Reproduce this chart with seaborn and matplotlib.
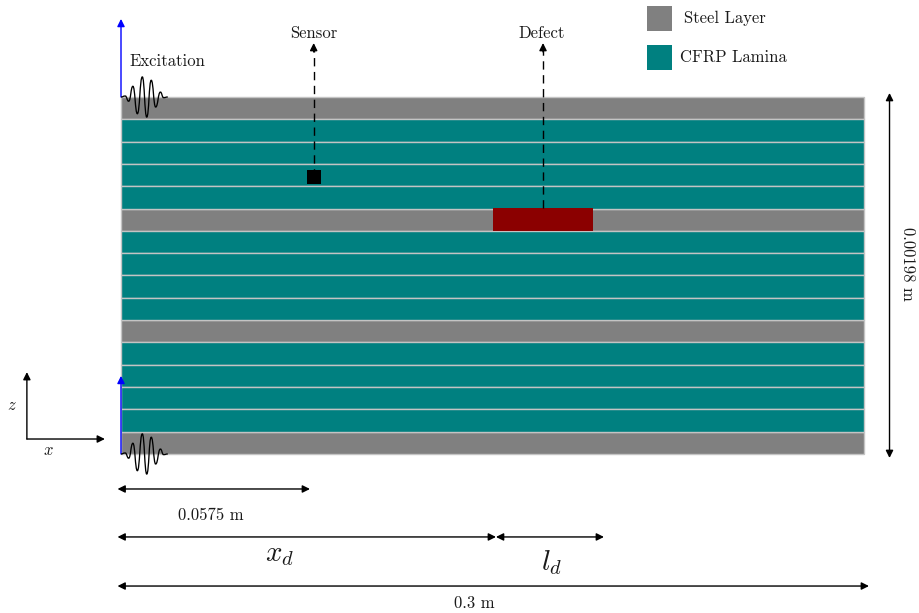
import matplotlib
matplotlib.use("Agg")
import matplotlib.pyplot as plt
from matplotlib.path import Path
from matplotlib.patches import PathPatch
import numpy as np
import pandas as pd
import seaborn as sns

# layup, top to bottom
layer_material = ["Steel Layer"] + ["CFRP Lamina"] * 4 + ["Steel Layer"] + ["CFRP Lamina"] * 4 \
    + ["Steel Layer"] + ["CFRP Lamina"] * 4 + ["Steel Layer"]
layer_index = list(range(16))
plate_length = [0.3] * 16

# x in metres, z in layer rows (row 0 on top)
defect_x = 0.1502
defect_len = 0.0404
defect_row = 5
sensor_x = 0.0778
sensor_z = 3.09
label_z = -2.92
top_surface = -0.5
bottom_surface = 15.5

# excitation burst (extrema only)
burst_x = [0, .0017, .0031, .0048, .0066, .0086, .0104, .0122, .0140, .0159, .0172, .0189]
burst_z = [0, -.045, .19, -.48, .75, -.90, .90, -.75, .45, -.22, .03, 0]

colors = {"Steel Layer": "#808080", "CFRP Lamina": "#008080"}
edge_color = "#c4c4c4"
text_color = "#1a1a1a"

sns.set_theme(style="white")
plt.rcParams["font.family"] = ["cmr10", "DejaVu Serif"]
plt.rcParams["mathtext.fontset"] = "cm"
plt.rcParams["axes.unicode_minus"] = False

fig = plt.figure(figsize=(9.19, 6.13), dpi=100)
ax = fig.add_axes([0, 0, 1, 1])

df = pd.DataFrame({"row": layer_index, "length": plate_length, "material": layer_material})
sns.barplot(data=df, x="length", y="row", hue="material", palette=colors, orient="h",
            dodge=False, width=1, saturation=1, legend=False, edgecolor=edge_color,
            linewidth=1.0, ax=ax)

# scale: 743 px for the 0.3 m plate, 22.31 px per layer
ax.set_xlim(-121 / 2476.7, 798 / 2476.7)
ax.set_ylim(-0.5 + 516 / 22.31, -0.5 - 97 / 22.31)
ax.axis("off")

ax.barh(defect_row, defect_len, left=defect_x, height=1.03, color="#8b0000", linewidth=0, zorder=4)


def arrow(x0, z0, x1, z1, style="-|>", color="black", lw=1.0):
    ax.annotate("", xy=(x1, z1), xytext=(x0, z0), zorder=6,
                arrowprops=dict(arrowstyle=style, color=color, lw=lw, shrinkA=0, shrinkB=0,
                                mutation_scale=11))


def burst(z0):
    xs = np.array(burst_x)
    zs = np.array(burst_z) + z0
    verts = [(xs[0], zs[0])]
    codes = [Path.MOVETO]
    for i in range(len(xs) - 1):
        mid = (xs[i] + xs[i + 1]) / 2
        verts += [(mid, zs[i]), (mid, zs[i + 1]), (xs[i + 1], zs[i + 1])]
        codes += [Path.CURVE4] * 3
    ax.add_patch(PathPatch(Path(verts, codes), fill=False, edgecolor="black", lw=0.95, zorder=7))


# excitation arrows and bursts
arrow(0, top_surface, 0, -4.0, color="#0000ff")
arrow(0, bottom_surface, 0, 12.0, color="#0000ff")
burst(top_surface)
burst(bottom_surface)

# sensor and defect callouts
ax.plot([sensor_x, sensor_x], [sensor_z, label_z + 0.3], color="black", lw=1.0, ls=(0, (6, 4)), zorder=5)
arrow(sensor_x, label_z + 0.4, sensor_x, label_z)
sns.scatterplot(x=[sensor_x], y=[sensor_z], marker="s", s=88, color="black", linewidth=0, zorder=6, ax=ax)

defect_mid = defect_x + defect_len / 2
ax.plot([defect_mid, defect_mid], [defect_row - 0.52, label_z + 0.3], color="black", lw=1.0, ls=(0, (6, 4)), zorder=5)
arrow(defect_mid, label_z + 0.4, defect_mid, label_z)

# dimension arrows
arrow(-.0014, 17.07, .0763, 17.07, style="<|-|>")
arrow(-.0014, 19.22, .1514, 19.22, style="<|-|>")
arrow(.1514, 19.22, .1950, 19.22, style="<|-|>")
arrow(-.0014, 21.42, .3020, 21.42, style="<|-|>")
arrow(.3103, -0.68, .3103, 15.68, style="<|-|>")

# coordinate axes
arrow(-.0380, 14.83, -.0065, 14.83)
arrow(-.0380, 14.83, -.0380, 11.83)

# legend swatches
ax.barh(-4.02, .0101, left=.2122, height=1.12, color=colors["Steel Layer"], linewidth=0)
ax.barh(-2.27, .0101, left=.2122, height=1.12, color=colors["CFRP Lamina"], linewidth=0)

txt = dict(ha="center", va="center", color=text_color, fontsize=12)
ax.text(.0780, -3.36, "Sensor", **txt)
ax.text(.1700, -3.36, "Defect", **txt)
ax.text(.0186, -2.11, "Excitation", **txt)
ax.text(.2439, -4.04, "Steel Layer", **txt)
ax.text(.2471, -2.28, "CFRP Lamina", **txt)
ax.text(.0364, 18.24, "0.0575 m", **txt)
ax.text(.1425, 22.19, "0.3 m", **txt)
ax.text(.3178, 7.0, "0.00198 m", rotation=270, **txt)
ax.text(.0642, 20.0, r"$x_d$", ha="center", va="center", fontsize=21, color=text_color)
ax.text(.1737, 20.35, r"$l_d$", ha="center", va="center", fontsize=21, color=text_color)
ax.text(-.0440, 13.3, r"$z$", ha="center", va="center", fontsize=12, color=text_color)
ax.text(-.0295, 15.32, r"$x$", ha="center", va="center", fontsize=12, color=text_color)

fig.savefig("out.png", dpi=100)
